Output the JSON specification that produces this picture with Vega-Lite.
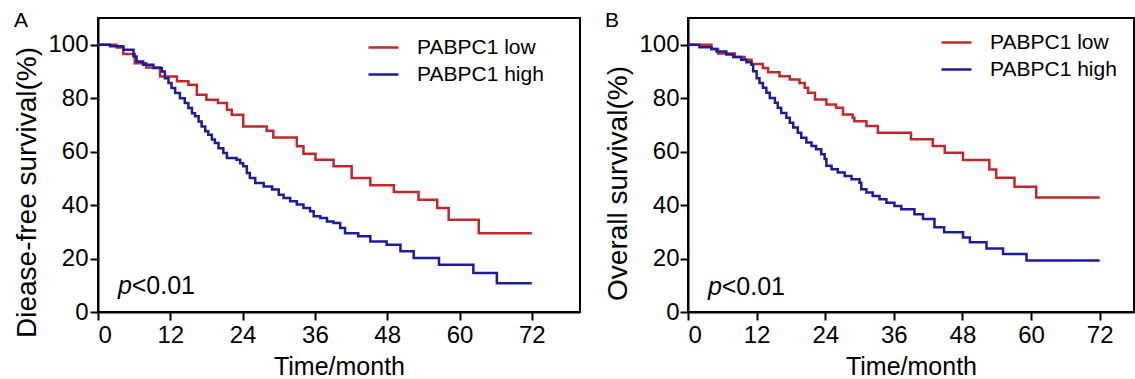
{
  "$schema": "https://vega.github.io/schema/vega-lite/v6.json",
  "padding": {"left": 12, "top": 9, "right": 0, "bottom": 0},
  "background": "white",
  "datasets": {
    "survA": [
      {"g": "PABPC1 low", "t": 0, "s": 100}, {"g": "PABPC1 low", "t": 3.1, "s": 99}, {"g": "PABPC1 low", "t": 4.2, "s": 96.5}, {"g": "PABPC1 low", "t": 6.1, "s": 93.1}, {"g": "PABPC1 low", "t": 8.0, "s": 91.5}, {"g": "PABPC1 low", "t": 10.3, "s": 88.1}, {"g": "PABPC1 low", "t": 13.1, "s": 86.3}, {"g": "PABPC1 low", "t": 15.0, "s": 85.0}, {"g": "PABPC1 low", "t": 16.4, "s": 81.3}, {"g": "PABPC1 low", "t": 18.0, "s": 79.4}, {"g": "PABPC1 low", "t": 19.9, "s": 78.2}, {"g": "PABPC1 low", "t": 21.4, "s": 75.7}, {"g": "PABPC1 low", "t": 22.2, "s": 73.8}, {"g": "PABPC1 low", "t": 24.1, "s": 69.4}, {"g": "PABPC1 low", "t": 28.0, "s": 67.8}, {"g": "PABPC1 low", "t": 29.1, "s": 65.3}, {"g": "PABPC1 low", "t": 33.0, "s": 62.0}, {"g": "PABPC1 low", "t": 34.1, "s": 59.2}, {"g": "PABPC1 low", "t": 36.1, "s": 57.0}, {"g": "PABPC1 low", "t": 39.1, "s": 54.5}, {"g": "PABPC1 low", "t": 42.1, "s": 50.1}, {"g": "PABPC1 low", "t": 45.2, "s": 47.4}, {"g": "PABPC1 low", "t": 49.1, "s": 44.9}, {"g": "PABPC1 low", "t": 53.2, "s": 42.0}, {"g": "PABPC1 low", "t": 56.3, "s": 38.9}, {"g": "PABPC1 low", "t": 58.2, "s": 34.5}, {"g": "PABPC1 low", "t": 63.2, "s": 29.5}, {"g": "PABPC1 low", "t": 72, "s": 29.5},
      {"g": "PABPC1 high", "t": 0, "s": 100}, {"g": "PABPC1 high", "t": 2.0, "s": 99.4}, {"g": "PABPC1 high", "t": 4.2, "s": 98.1}, {"g": "PABPC1 high", "t": 5.9, "s": 95.6}, {"g": "PABPC1 high", "t": 6.4, "s": 93.7}, {"g": "PABPC1 high", "t": 7.5, "s": 92.5}, {"g": "PABPC1 high", "t": 9.2, "s": 91.3}, {"g": "PABPC1 high", "t": 10.6, "s": 90.0}, {"g": "PABPC1 high", "t": 11.1, "s": 87.5}, {"g": "PABPC1 high", "t": 11.7, "s": 85.7}, {"g": "PABPC1 high", "t": 12.2, "s": 83.8}, {"g": "PABPC1 high", "t": 12.8, "s": 81.9}, {"g": "PABPC1 high", "t": 13.6, "s": 80.0}, {"g": "PABPC1 high", "t": 14.4, "s": 78.2}, {"g": "PABPC1 high", "t": 15.0, "s": 76.3}, {"g": "PABPC1 high", "t": 15.6, "s": 74.4}, {"g": "PABPC1 high", "t": 16.1, "s": 73.2}, {"g": "PABPC1 high", "t": 16.7, "s": 71.3}, {"g": "PABPC1 high", "t": 17.2, "s": 69.4}, {"g": "PABPC1 high", "t": 17.8, "s": 67.6}, {"g": "PABPC1 high", "t": 18.3, "s": 66.3}, {"g": "PABPC1 high", "t": 18.9, "s": 64.5}, {"g": "PABPC1 high", "t": 19.4, "s": 63.2}, {"g": "PABPC1 high", "t": 20.0, "s": 61.3}, {"g": "PABPC1 high", "t": 20.8, "s": 59.5}, {"g": "PABPC1 high", "t": 21.4, "s": 57.6}, {"g": "PABPC1 high", "t": 23.0, "s": 57.0}, {"g": "PABPC1 high", "t": 23.6, "s": 55.7}, {"g": "PABPC1 high", "t": 24.1, "s": 54.5}, {"g": "PABPC1 high", "t": 24.7, "s": 52.0}, {"g": "PABPC1 high", "t": 25.2, "s": 50.1}, {"g": "PABPC1 high", "t": 26.1, "s": 48.3}, {"g": "PABPC1 high", "t": 27.5, "s": 47.0}, {"g": "PABPC1 high", "t": 28.9, "s": 45.8}, {"g": "PABPC1 high", "t": 30.0, "s": 43.9}, {"g": "PABPC1 high", "t": 30.8, "s": 42.7}, {"g": "PABPC1 high", "t": 31.9, "s": 41.4}, {"g": "PABPC1 high", "t": 33.0, "s": 40.2}, {"g": "PABPC1 high", "t": 34.1, "s": 38.9}, {"g": "PABPC1 high", "t": 35.2, "s": 37.7}, {"g": "PABPC1 high", "t": 35.8, "s": 35.8}, {"g": "PABPC1 high", "t": 36.9, "s": 35.2}, {"g": "PABPC1 high", "t": 38.0, "s": 33.9}, {"g": "PABPC1 high", "t": 39.1, "s": 33.3}, {"g": "PABPC1 high", "t": 40.2, "s": 31.4}, {"g": "PABPC1 high", "t": 41.0, "s": 29.5}, {"g": "PABPC1 high", "t": 43.2, "s": 28.3}, {"g": "PABPC1 high", "t": 45.2, "s": 26.4}, {"g": "PABPC1 high", "t": 47.9, "s": 25.2}, {"g": "PABPC1 high", "t": 50.2, "s": 22.7}, {"g": "PABPC1 high", "t": 52.4, "s": 20.2}, {"g": "PABPC1 high", "t": 56.6, "s": 17.7}, {"g": "PABPC1 high", "t": 62.3, "s": 14.6}, {"g": "PABPC1 high", "t": 66.2, "s": 10.8}, {"g": "PABPC1 high", "t": 72, "s": 10.8}
    ],
    "survB": [
      {"g": "PABPC1 low", "t": 0, "s": 100}, {"g": "PABPC1 low", "t": 4.1, "s": 98.4}, {"g": "PABPC1 low", "t": 5.25, "s": 96.7}, {"g": "PABPC1 low", "t": 8.2, "s": 95.4}, {"g": "PABPC1 low", "t": 9.9, "s": 94.4}, {"g": "PABPC1 low", "t": 11.1, "s": 92.8}, {"g": "PABPC1 low", "t": 13.1, "s": 91.3}, {"g": "PABPC1 low", "t": 14.0, "s": 89.7}, {"g": "PABPC1 low", "t": 16.0, "s": 88.2}, {"g": "PABPC1 low", "t": 17.8, "s": 87.0}, {"g": "PABPC1 low", "t": 19.5, "s": 85.7}, {"g": "PABPC1 low", "t": 20.4, "s": 83.9}, {"g": "PABPC1 low", "t": 21.0, "s": 82.0}, {"g": "PABPC1 low", "t": 22.2, "s": 79.5}, {"g": "PABPC1 low", "t": 24.2, "s": 77.6}, {"g": "PABPC1 low", "t": 25.9, "s": 76.4}, {"g": "PABPC1 low", "t": 27.1, "s": 73.9}, {"g": "PABPC1 low", "t": 28.8, "s": 72.7}, {"g": "PABPC1 low", "t": 29.1, "s": 71.4}, {"g": "PABPC1 low", "t": 31.2, "s": 69.6}, {"g": "PABPC1 low", "t": 33.2, "s": 67.1}, {"g": "PABPC1 low", "t": 39.0, "s": 64.6}, {"g": "PABPC1 low", "t": 42.8, "s": 62.1}, {"g": "PABPC1 low", "t": 44.9, "s": 59.6}, {"g": "PABPC1 low", "t": 48.1, "s": 56.9}, {"g": "PABPC1 low", "t": 52.7, "s": 53.3}, {"g": "PABPC1 low", "t": 53.9, "s": 50.2}, {"g": "PABPC1 low", "t": 57.1, "s": 46.9}, {"g": "PABPC1 low", "t": 60.9, "s": 42.8}, {"g": "PABPC1 low", "t": 72, "s": 42.8},
      {"g": "PABPC1 high", "t": 0, "s": 100}, {"g": "PABPC1 high", "t": 2.0, "s": 99.1}, {"g": "PABPC1 high", "t": 4.1, "s": 98.4}, {"g": "PABPC1 high", "t": 5.0, "s": 97.5}, {"g": "PABPC1 high", "t": 6.7, "s": 96.3}, {"g": "PABPC1 high", "t": 7.9, "s": 95.4}, {"g": "PABPC1 high", "t": 9.3, "s": 94.4}, {"g": "PABPC1 high", "t": 10.2, "s": 93.4}, {"g": "PABPC1 high", "t": 11.1, "s": 92.5}, {"g": "PABPC1 high", "t": 11.4, "s": 90.1}, {"g": "PABPC1 high", "t": 12.0, "s": 87.5}, {"g": "PABPC1 high", "t": 12.5, "s": 85.7}, {"g": "PABPC1 high", "t": 13.1, "s": 83.9}, {"g": "PABPC1 high", "t": 13.7, "s": 82.0}, {"g": "PABPC1 high", "t": 14.3, "s": 80.1}, {"g": "PABPC1 high", "t": 15.2, "s": 78.3}, {"g": "PABPC1 high", "t": 15.7, "s": 76.4}, {"g": "PABPC1 high", "t": 16.3, "s": 74.5}, {"g": "PABPC1 high", "t": 17.2, "s": 72.7}, {"g": "PABPC1 high", "t": 17.8, "s": 70.8}, {"g": "PABPC1 high", "t": 18.4, "s": 69.0}, {"g": "PABPC1 high", "t": 19.2, "s": 67.1}, {"g": "PABPC1 high", "t": 19.8, "s": 65.2}, {"g": "PABPC1 high", "t": 20.7, "s": 63.4}, {"g": "PABPC1 high", "t": 21.6, "s": 62.1}, {"g": "PABPC1 high", "t": 22.4, "s": 60.9}, {"g": "PABPC1 high", "t": 23.3, "s": 59.0}, {"g": "PABPC1 high", "t": 23.9, "s": 57.2}, {"g": "PABPC1 high", "t": 24.2, "s": 54.7}, {"g": "PABPC1 high", "t": 25.1, "s": 53.4}, {"g": "PABPC1 high", "t": 26.2, "s": 52.2}, {"g": "PABPC1 high", "t": 27.4, "s": 50.9}, {"g": "PABPC1 high", "t": 28.6, "s": 49.7}, {"g": "PABPC1 high", "t": 30.0, "s": 48.4}, {"g": "PABPC1 high", "t": 30.3, "s": 45.9}, {"g": "PABPC1 high", "t": 31.2, "s": 44.7}, {"g": "PABPC1 high", "t": 32.3, "s": 43.4}, {"g": "PABPC1 high", "t": 33.5, "s": 42.2}, {"g": "PABPC1 high", "t": 34.7, "s": 40.9}, {"g": "PABPC1 high", "t": 36.1, "s": 39.7}, {"g": "PABPC1 high", "t": 37.3, "s": 38.4}, {"g": "PABPC1 high", "t": 39.6, "s": 36.6}, {"g": "PABPC1 high", "t": 41.1, "s": 34.8}, {"g": "PABPC1 high", "t": 43.1, "s": 31.7}, {"g": "PABPC1 high", "t": 44.8, "s": 29.8}, {"g": "PABPC1 high", "t": 48.1, "s": 27.9}, {"g": "PABPC1 high", "t": 49.3, "s": 26.1}, {"g": "PABPC1 high", "t": 52.2, "s": 23.8}, {"g": "PABPC1 high", "t": 55.1, "s": 21.7}, {"g": "PABPC1 high", "t": 59.2, "s": 19.3}, {"g": "PABPC1 high", "t": 72, "s": 19.3}
    ]
  },
  "spacing": 22,
  "resolve": {"scale": {"color": "independent"}, "legend": {"color": "independent"}},
  "hconcat": [
    {
      "width": 482,
      "height": 294,
      "title": {"text": "A", "anchor": "start", "frame": "bounds", "fontSize": 21, "fontWeight": "normal", "offset": -13, "color": "black"},
      "layer": [
        {
          "data": {"name": "survA"},
          "mark": {"type": "line", "interpolate": "step-after", "strokeWidth": 2.5},
          "encoding": {
            "x": {"field": "t", "type": "quantitative", "scale": {"domain": [0, 80], "nice": false}, "axis": {"values": [0, 12, 24, 36, 48, 60, 72], "title": "Time/month", "labelPadding": 3, "titlePadding": 7}},
            "y": {"field": "s", "type": "quantitative", "scale": {"domain": [0, 110], "nice": false}, "axis": {"values": [0, 20, 40, 60, 80, 100], "title": "Diease-free survival(%)", "labelPadding": 2, "titlePadding": 6, "titleFontSize": 28, "titleY": 174}},
            "color": {"field": "g", "type": "nominal", "scale": {"domain": ["PABPC1 low", "PABPC1 high"], "range": ["#C0282D", "#1C1C9C"]}, "legend": {"orient": "none", "legendX": 269, "legendY": 13, "title": null, "symbolType": "stroke", "symbolSize": 900, "symbolStrokeWidth": 2.5, "labelFontSize": 21, "labelOffset": 17, "rowPadding": -2, "padding": 0, "labelColor": "black"}}
          }
        },
        {
          "data": {"values": [{"txt": "p"}]},
          "mark": {"type": "text", "fontStyle": "italic", "fontSize": 25, "align": "left", "baseline": "alphabetic", "color": "black"},
          "encoding": {"x": {"datum": 3.3}, "y": {"datum": 6.6}, "text": {"field": "txt"}}
        },
        {
          "data": {"values": [{"txt": "<0.01"}]},
          "mark": {"type": "text", "fontSize": 25, "align": "left", "baseline": "alphabetic", "color": "black"},
          "encoding": {"x": {"datum": 5.6}, "y": {"datum": 6.6}, "text": {"field": "txt"}}
        }
      ]
    },
    {
      "width": 446,
      "height": 294,
      "title": {"text": "B", "anchor": "start", "frame": "bounds", "fontSize": 21, "fontWeight": "normal", "offset": -13, "color": "black"},
      "layer": [
        {
          "data": {"name": "survB"},
          "mark": {"type": "line", "interpolate": "step-after", "strokeWidth": 2.5},
          "encoding": {
            "x": {"field": "t", "type": "quantitative", "scale": {"domain": [0, 78], "nice": false}, "axis": {"values": [0, 12, 24, 36, 48, 60, 72], "title": "Time/month", "labelPadding": 3, "titlePadding": 7}},
            "y": {"field": "s", "type": "quantitative", "scale": {"domain": [0, 110], "nice": false}, "axis": {"values": [0, 20, 40, 60, 80, 100], "title": "Overall survival(%)", "labelPadding": 1, "titlePadding": 6, "titleFontSize": 28, "titleY": 165}},
            "color": {"field": "g", "type": "nominal", "scale": {"domain": ["PABPC1 low", "PABPC1 high"], "range": ["#C0282D", "#1C1C9C"]}, "legend": {"orient": "none", "legendX": 252, "legendY": 8, "title": null, "symbolType": "stroke", "symbolSize": 900, "symbolStrokeWidth": 2.5, "labelFontSize": 21, "labelOffset": 17, "rowPadding": -2, "padding": 0, "labelColor": "black"}}
          }
        },
        {
          "data": {"values": [{"txt": "p"}]},
          "mark": {"type": "text", "fontStyle": "italic", "fontSize": 25, "align": "left", "baseline": "alphabetic", "color": "black"},
          "encoding": {"x": {"datum": 3.5}, "y": {"datum": 6.4}, "text": {"field": "txt"}}
        },
        {
          "data": {"values": [{"txt": "<0.01"}]},
          "mark": {"type": "text", "fontSize": 25, "align": "left", "baseline": "alphabetic", "color": "black"},
          "encoding": {"x": {"datum": 5.9}, "y": {"datum": 6.4}, "text": {"field": "txt"}}
        }
      ]
    }
  ],
  "config": {
    "font": "Liberation Sans",
    "view": {"stroke": "black", "strokeWidth": 2},
    "axis": {"domainColor": "black", "domainWidth": 2, "tickColor": "black", "tickWidth": 2, "tickSize": 8, "labelColor": "black", "titleColor": "black", "labelFontSize": 24, "titleFontSize": 25, "titleFontWeight": "normal", "grid": false, "labelFont": "Liberation Sans", "titleFont": "Liberation Sans"},
    "legend": {"labelFont": "Liberation Sans"}
  }
}
